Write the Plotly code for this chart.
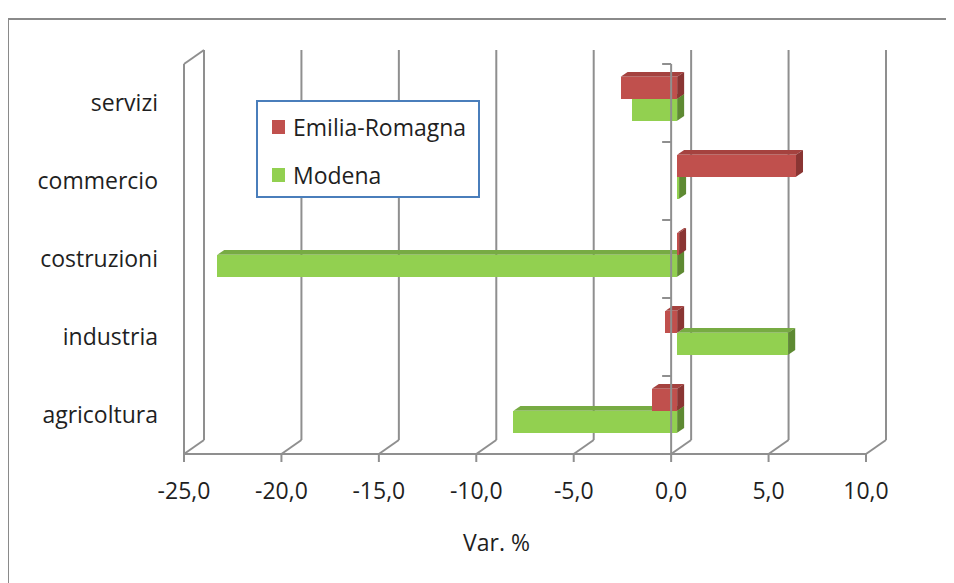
import plotly.graph_objects as go

# ---------------- data ----------------
categories = ["agricoltura", "industria", "costruzioni", "commercio", "servizi"]  # bottom -> top
emilia = [-1.3, -0.6, 0.1, 6.1, -2.9]
modena = [-8.4, 5.7, -23.6, 0.1, -2.3]
series_names = ["Emilia-Romagna", "Modena"]
tick_values = [-25, -20, -15, -10, -5, 0, 5, 10]
tick_labels = [f"{v:.1f}".replace(".", ",") for v in tick_values]
axis_title = "Var. %"

# ---------------- styling / geometry ----------------
W, H = 954, 583
OFF = 8                                  # default page body margin
L, R, T, B = 170, 905, 40, 470          # plot area in page pixels
PX_PER_X = (866 - 184) / 35.0           # pixels per x unit on front plane
PX_PER_Y = 78.0                          # pixels per category band
X0PX, Y0PX = 184, 454                    # page pixel of (-25, 0) on front plane
xr = [-25 + (L - X0PX) / PX_PER_X, -25 + (R - X0PX) / PX_PER_X]
yr = [(Y0PX - B) / PX_PER_Y, (Y0PX - T) / PX_PER_Y]

DEPTH_X = 20 / PX_PER_X                  # full depth offset (x units)
DEPTH_Y = 14 / PX_PER_Y                  # full depth offset (y units)
BAR_FRONT, BAR_BACK = 0.3, 0.65          # depth fractions of bars
BAR_H = 22 / PX_PER_Y
GRID = "#8f8f8f"
FONT = "Open Sans"
FS = 23
TXT = "#1f1f1f"

colors = {
    "Emilia-Romagna": ("#C0504D", "#A5423F", "#8A3533"),
    "Modena": ("#92D050", "#77AB43", "#5E8A32"),
}

def pxx(p):
    return (p - L) / (R - L)

def pxy(p):
    return (B - p) / (B - T)

shapes = []

def line(x0, y0, x1, y1, layer="below", color=GRID, width=2):
    shapes.append(dict(type="line", xref="x", yref="y", x0=x0, y0=y0, x1=x1, y1=y1,
                       line=dict(color=color, width=width), layer=layer))

def poly(pts, color, layer="below"):
    path = "M " + " L ".join(f"{x},{y}" for x, y in pts) + " Z"
    shapes.append(dict(type="path", xref="x", yref="y", path=path, fillcolor=color,
                       line=dict(width=0), layer=layer))

xmin, xmax = tick_values[0], tick_values[-1]
ncat = len(categories)

# back wall gridlines
for v in tick_values:
    line(v + DEPTH_X, DEPTH_Y, v + DEPTH_X, ncat + DEPTH_Y)
    line(v, 0, v + DEPTH_X, DEPTH_Y)          # floor diagonals
    line(v, 0, v, -8 / PX_PER_Y)               # ticks below front axis
# left wall
line(xmin, 0, xmin, ncat)
line(xmin, ncat, xmin + DEPTH_X, ncat + DEPTH_Y)
# front axis line
line(xmin, 0, xmax, 0)

# bar 3D faces
bx0 = BAR_FRONT * DEPTH_X
by0 = BAR_FRONT * DEPTH_Y
ddx = (BAR_BACK - BAR_FRONT) * DEPTH_X
ddy = (BAR_BACK - BAR_FRONT) * DEPTH_Y

def centers(offset):
    return [k + 0.5 + by0 + offset for k in range(ncat)]

series = [("Modena", modena, -BAR_H / 2), ("Emilia-Romagna", emilia, BAR_H / 2)]
for name, vals, off in series:
    face, top, side = colors[name]
    for yc, v in zip(centers(off), vals):
        xa, xb = sorted([bx0, bx0 + v])
        yt, yb = yc + BAR_H / 2, yc - BAR_H / 2
        poly([(xa, yt), (xb, yt), (xb + ddx, yt + ddy), (xa + ddx, yt + ddy)], top)
        poly([(xb, yb), (xb, yt), (xb + ddx, yt + ddy), (xb + ddx, yb + ddy)], side)

fig = go.Figure()
for name, vals, off in series:
    fig.add_trace(go.Bar(
        orientation="h", name=name, x=vals, y=centers(off), base=bx0,
        width=BAR_H, marker=dict(color=colors[name][0], line=dict(width=0)),
        showlegend=False, hoverinfo="x+name"))

# zero category axis (front, above bars)
line(0, 0, 0, ncat, layer="above")
for k in range(ncat + 1):
    line(-9 / PX_PER_X, k, 0, k, layer="above")

# outer chart border
shapes.append(dict(type="rect", xref="paper", yref="paper",
                   x0=pxx(8), y0=pxy(600), x1=pxx(975), y1=pxy(19),
                   line=dict(color="#8a8a8a", width=2), fillcolor="rgba(0,0,0,0)", layer="below"))

# custom legend
shapes.append(dict(type="rect", xref="paper", yref="paper",
                   x0=pxx(257), y0=pxy(197), x1=pxx(479), y1=pxy(101),
                   line=dict(color="#4A7EBB", width=2), fillcolor="white", layer="above"))
annotations = []
for i, name in enumerate(series_names):
    cy = 127 + 48 * i
    shapes.append(dict(type="rect", xref="paper", yref="paper",
                       x0=pxx(272), y0=pxy(cy + 7), x1=pxx(285), y1=pxy(cy - 7),
                       line=dict(width=0), fillcolor=colors[name][0], layer="above"))
    annotations.append(dict(xref="paper", yref="paper", x=pxx(291), y=pxy(cy),
                            text=name, showarrow=False, xanchor="left", yanchor="middle",
                            font=dict(family=FONT, size=FS, color=TXT)))

annotations.append(dict(xref="paper", yref="paper", x=pxx(496), y=pxy(542),
                        text=axis_title, showarrow=False, xanchor="center", yanchor="middle",
                        font=dict(family=FONT, size=FS, color=TXT)))

fig.update_layout(
    width=W - OFF, height=H - OFF,
    margin=dict(l=L - OFF, r=W - R, t=T - OFF, b=H - B),
    paper_bgcolor="white", plot_bgcolor="white",
    barmode="overlay", bargap=0,
    shapes=shapes, annotations=annotations, showlegend=False,
    font=dict(family=FONT, size=FS, color=TXT),
    xaxis=dict(range=xr, tickvals=tick_values, ticktext=tick_labels, showgrid=False,
               zeroline=False, showline=False, ticks="", ticklabelstandoff=5,
               tickfont=dict(family=FONT, size=FS, color=TXT), fixedrange=True),
    yaxis=dict(range=yr, tickvals=[k + 0.5 for k in range(ncat)], ticktext=categories,
               showgrid=False, zeroline=False, showline=False, ticks="",
               ticklabelstandoff=11, tickfont=dict(family=FONT, size=FS, color=TXT),
               fixedrange=True),
)

fig.write_html("out.html")
